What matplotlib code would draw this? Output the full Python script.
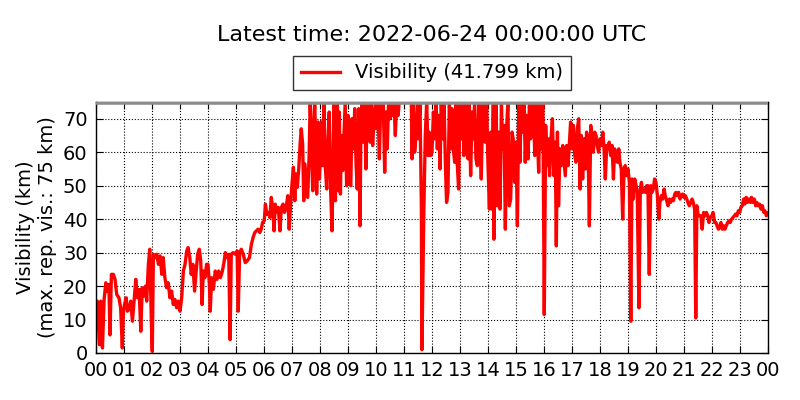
import numpy as np
import matplotlib
matplotlib.use("Agg")
import matplotlib.pyplot as plt

# ==========================================
# data (hour of day, visibility km)
# ==========================================
hours = [
    0.00, 0.05, 0.12, 0.17, 0.23, 0.29, 0.35, 0.40, 0.46, 0.50, 0.55, 0.62, 0.68, 0.74, 0.82, 0.88, 0.94, 0.98,
    1.02, 1.08, 1.12, 1.18, 1.24, 1.30, 1.36, 1.42, 1.48, 1.54, 1.60, 1.65, 1.71, 1.77, 1.81, 1.87, 1.92, 1.98, 2.01, 2.05,
    2.11, 2.17, 2.23, 2.29, 2.35, 2.40, 2.46, 2.52, 2.58, 2.64, 2.70, 2.76, 2.82, 2.88, 2.94, 3.00,
    3.06, 3.12, 3.18, 3.24, 3.29, 3.35, 3.40, 3.46, 3.52, 3.58, 3.63, 3.69, 3.74, 3.79, 3.83, 3.89, 3.95,
    4.00, 4.05, 4.08, 4.13, 4.19, 4.26, 4.32, 4.38, 4.44, 4.50, 4.56, 4.62, 4.68, 4.74, 4.79, 4.83, 4.90, 4.98,
    5.04, 5.08, 5.13, 5.19, 5.26, 5.33, 5.40, 5.48, 5.55, 5.61, 5.67, 5.73, 5.79, 5.85, 5.90, 5.95,
    6.01, 6.05, 6.10, 6.15, 6.21, 6.26, 6.31, 6.36, 6.40, 6.45, 6.51, 6.57, 6.62, 6.68, 6.73, 6.79, 6.85, 6.90, 6.95,
    7.00, 7.05, 7.10, 7.14, 7.19, 7.24, 7.29, 7.33, 7.38, 7.42, 7.46, 7.51, 7.56, 7.61, 7.65, 7.70, 7.74, 7.77, 7.81,
    7.85, 7.88, 7.93, 7.98,
    8.02, 8.05, 8.10, 8.14, 8.19, 8.24, 8.29, 8.33, 8.38, 8.43, 8.46, 8.50, 8.55, 8.58, 8.62, 8.65, 8.69, 8.73, 8.76,
    8.81, 8.86, 8.90, 8.95,
    9.00, 9.05, 9.10, 9.14, 9.19, 9.24, 9.29, 9.33, 9.38, 9.43, 9.46, 9.50, 9.55, 9.60, 9.64, 9.69, 9.74, 9.79, 9.83,
    9.88, 9.93, 9.98,
    10.02, 10.07, 10.12, 10.17, 10.21, 10.26, 10.31, 10.36, 10.40, 10.45, 10.50, 10.55, 10.60, 10.64, 10.69, 10.74,
    10.79, 10.83, 10.90, 11.00, 11.10, 11.20, 11.26,
    11.29, 11.33, 11.38, 11.43, 11.48, 11.52, 11.57, 11.62, 11.64, 11.71, 11.76, 11.81, 11.86, 11.90, 11.95,
    12.00, 12.05, 12.10, 12.14, 12.19, 12.24, 12.29, 12.33, 12.38, 12.43, 12.48, 12.52, 12.57, 12.62, 12.67, 12.71,
    12.76, 12.81, 12.86, 12.90, 12.95,
    13.00, 13.05, 13.10, 13.14, 13.19, 13.24, 13.29, 13.33, 13.38, 13.43, 13.48, 13.52, 13.57, 13.62, 13.67, 13.71,
    13.76, 13.81, 13.86, 13.90, 13.95,
    14.00, 14.05, 14.10, 14.14, 14.19, 14.21, 14.25, 14.29, 14.33, 14.38, 14.43, 14.48, 14.52, 14.57, 14.62, 14.67,
    14.71, 14.76, 14.81, 14.86, 14.90, 14.95,
    15.00, 15.05, 15.10, 15.14, 15.19, 15.24, 15.29, 15.33, 15.38, 15.43, 15.48, 15.52, 15.57, 15.62, 15.67, 15.71,
    15.76, 15.81, 15.86, 15.90, 15.93, 15.96,
    16.01, 16.06, 16.10, 16.15, 16.20, 16.25, 16.30, 16.35, 16.40, 16.44, 16.48, 16.52, 16.57, 16.62, 16.67, 16.71,
    16.76, 16.81, 16.86, 16.90, 16.95,
    17.00, 17.05, 17.10, 17.14, 17.19, 17.24, 17.29, 17.33, 17.38, 17.43, 17.48, 17.52, 17.57, 17.62, 17.67, 17.71,
    17.76, 17.81, 17.86, 17.90, 17.95,
    18.00, 18.05, 18.10, 18.14, 18.19, 18.24, 18.29, 18.33, 18.38, 18.43, 18.48, 18.52, 18.57, 18.62, 18.67, 18.71,
    18.76, 18.81, 18.86, 18.90, 18.95,
    19.00, 19.05, 19.10, 19.14, 19.19, 19.24, 19.29, 19.33, 19.39, 19.44, 19.48, 19.52, 19.57, 19.62, 19.67, 19.71,
    19.76, 19.81, 19.86, 19.90, 19.95,
    20.00, 20.05, 20.10, 20.14, 20.19, 20.24, 20.29, 20.33, 20.38, 20.43, 20.48, 20.52, 20.57, 20.62, 20.67, 20.71,
    20.76, 20.81, 20.86, 20.90, 20.95,
    21.00, 21.05, 21.10, 21.14, 21.19, 21.24, 21.29, 21.33, 21.38, 21.42, 21.46, 21.51, 21.56, 21.60, 21.65, 21.70,
    21.75, 21.80, 21.85, 21.89, 21.94, 21.99,
    22.04, 22.09, 22.14, 22.18, 22.23, 22.28, 22.32, 22.37, 22.42, 22.46, 22.51, 22.56, 22.61, 22.65, 22.70, 22.75,
    22.80, 22.84, 22.89, 22.94, 22.99,
    23.03, 23.08, 23.13, 23.17, 23.22, 23.27, 23.32, 23.37, 23.41, 23.46, 23.51, 23.56, 23.60, 23.65, 23.70, 23.75,
    23.80, 23.85, 23.89, 23.94, 24.00,
]
visibility = [
    12.5, 15.5, 2.5, 15.5, 1.5, 16, 21, 18.5, 20.5, 5.4, 23.5, 23.5, 22, 17.5, 16.5, 13.5, 1.5, 12.5,
    14.5, 16.5, 12.5, 13, 15.5, 9.5, 15.5, 22, 16.5, 19, 6.5, 19.5, 17, 20, 15.5, 26.5, 31, 8.5, 0.5, 29.5,
    28.5, 29.5, 26.5, 29, 23.5, 28.5, 22.5, 19.5, 21, 16.5, 18.5, 14.5, 16, 13.5, 15.5, 12.5,
    16.5, 24.5, 26.5, 30.5, 31.5, 28.5, 23.5, 26.5, 18.5, 24.5, 29.5, 31, 27.5, 14.5, 24.5, 22.5, 26.5,
    26.5, 20.5, 12.5, 22.5, 19, 24.5, 22, 24.5, 22.5, 24, 26.5, 30, 28.5, 29.5, 4, 29.5, 30, 29.5,
    30.5, 12.5, 30, 31, 29.5, 27, 27.5, 28.5, 32.5, 34.5, 36, 36.5, 37, 36, 37, 39,
    39.5, 44.5, 41.5, 42, 40.5, 46.5, 43.5, 36.5, 44.5, 42, 43.5, 36.5, 43.5, 44.5, 42, 43.5, 47, 37, 44.5,
    50.5, 55.5, 45.5, 53.5, 49.5, 55, 62.5, 67, 62.5, 45.5, 56.5, 51.5, 46.5, 58.5, 75, 61.5, 48.5, 65, 75,
    62.5, 47.5, 69, 52,
    60, 69, 56, 75, 55.5, 49, 64, 72, 48.5, 36.5, 53.5, 75, 45.5, 61, 75, 48.5, 72, 47.5, 65,
    54.5, 66, 75, 50,
    71, 51, 50, 70, 61, 73, 56, 49, 73, 38, 66, 75, 63, 75, 55, 75, 68, 63, 75,
    62, 70, 75,
    67, 75, 58, 75, 70, 75, 54, 72, 61, 75, 70, 75, 71, 75, 65, 75,
    71, 75, 75, 75, 75, 75, 75,
    58, 75, 60, 65, 75, 64, 75, 44, 1, 43, 65, 75, 59, 66, 59,
    60, 72, 64, 75, 61, 71, 55, 75, 64, 75, 56, 45, 48, 75, 61, 73,
    61, 57, 75, 57, 49,
    75, 64, 75, 59, 69, 75, 58, 75, 53, 72, 64, 75, 58, 56, 75, 68,
    52, 75, 70, 63, 75,
    56, 43, 66, 43, 75, 34, 61, 75, 44, 66, 43, 75, 61, 68, 37, 68,
    75, 44, 46, 66, 64, 51,
    63, 38, 75, 57, 75, 66, 75, 57, 71, 58, 75, 64, 68, 75, 59, 75,
    66, 54, 75, 61, 72, 75,
    11.5, 68, 56, 64, 53, 64, 70, 53, 63, 32, 66, 44, 61, 56, 62, 58,
    53, 62, 56, 62, 69,
    61, 68, 59, 57, 67, 70, 49, 65, 52, 64, 55, 66, 64, 38, 68, 62,
    60, 66, 65, 62, 60,
    64, 62, 66, 62, 52, 62, 61, 63, 59, 62, 52, 61, 60, 57, 61, 57,
    55, 40, 55, 56, 53,
    55, 51, 9.5, 52, 46, 52, 50, 48, 13.5, 49, 51, 48, 49, 48, 50, 50,
    23.5, 50, 48, 49, 52,
    51, 47, 40, 45, 47, 46, 49, 47, 45.5, 44, 46, 45, 46, 45.5, 47.5, 48,
    47, 48, 46, 47, 47.5,
    46.5, 47, 46, 45, 44, 45, 46, 45, 43, 10.5, 44, 41, 41, 41, 37, 42,
    41, 42, 41, 39, 40.5, 41,
    42, 39, 39, 38, 37, 38, 39, 37, 38, 37, 38, 39, 39.5, 39, 40, 40.5,
    41, 41.5, 41, 42.5, 42,
    43.5, 44, 46, 44.5, 46.5, 45, 46, 45, 46.5, 45, 46, 44, 45, 44, 44.5, 43,
    44, 42, 42.5, 41, 41.799,
]
hour_labels = ["%02d" % (h % 24) for h in range(25)]
max_vis = 75
latest = visibility[-1]

# ==========================================
# plot
# ==========================================
fig = plt.figure(figsize=(8, 4), dpi=100, facecolor="white")
ax = fig.add_axes([0.12, 0.1175, 0.84, 0.6275])

ax.plot(hours, visibility, color="red", lw=2.4, label="Visibility (%.3f km)" % latest, zorder=2)
ax.axhline(max_vis, color="0.55", lw=4, zorder=3)

ax.set_xlim(0, 24)
ax.set_ylim(0, max_vis)
ax.set_xticks(range(25))
ax.set_xticklabels(hour_labels)
ax.set_yticks(range(0, 71, 10))
ax.tick_params(direction="in", top=True, right=True, labelsize=14, length=5, pad=6)
ax.grid(True, color="black", linestyle=":", linewidth=0.8)
for s in ax.spines.values():
    s.set_linewidth(1.0)

ax.set_ylabel("Visibility (km)\n(max. rep. vis.: %d km)" % max_vis, fontsize=14, linespacing=1.2)
fig.suptitle("Latest time: 2022-06-24 00:00:00 UTC", x=0.54, y=0.937, fontsize=16)
ax.legend(loc="lower center", bbox_to_anchor=(0.5, 1.008), fontsize=14, frameon=True,
          fancybox=False, edgecolor="black", handlelength=2, borderpad=0.4)

fig.savefig("out.png", dpi=100, facecolor="white")
